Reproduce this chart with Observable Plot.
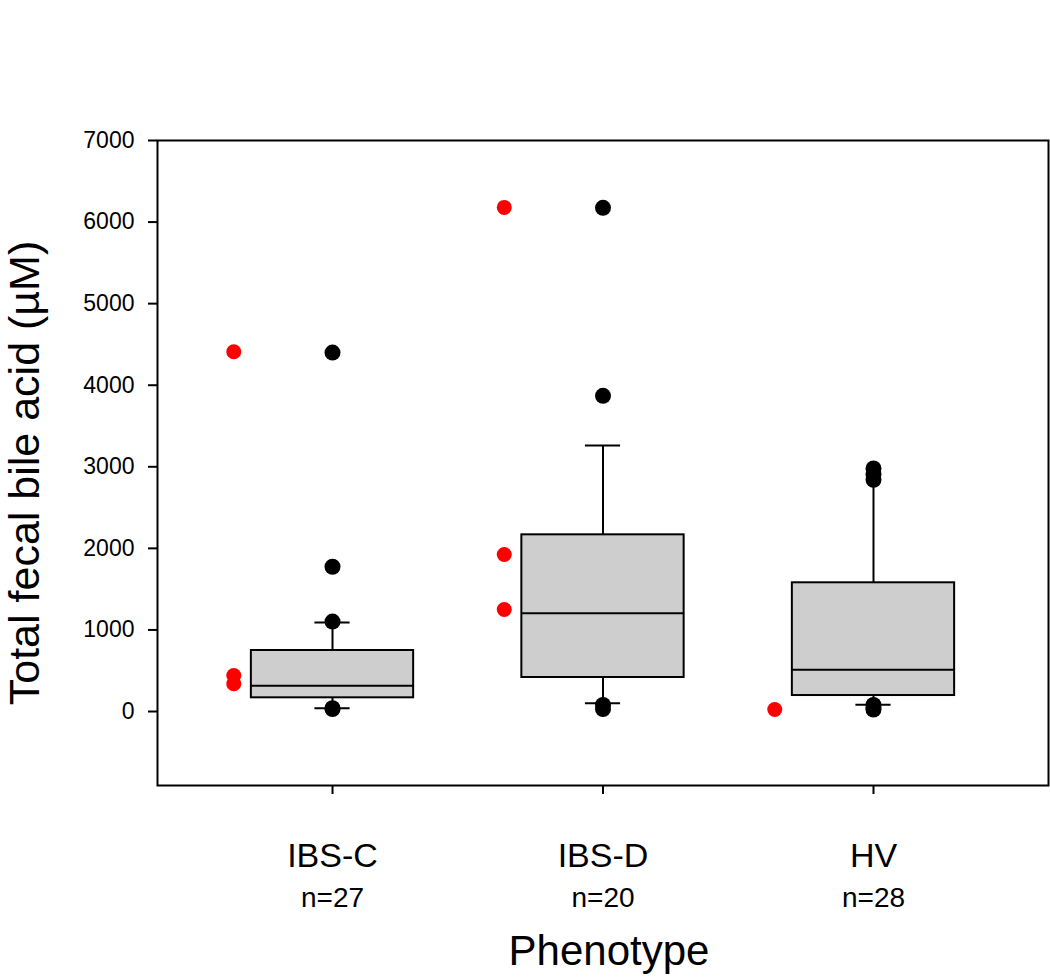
<!DOCTYPE html>
<html>
<head>
<meta charset="utf-8">
<script src="https://cdn.jsdelivr.net/npm/d3@7"></script>
<script src="https://cdn.jsdelivr.net/npm/@observablehq/plot@0.6"></script>
<style>
  html, body { margin: 0; padding: 0; background: #ffffff; }
  #chart { width: 1050px; height: 978px; }
</style>
</head>
<body>
<div id="chart"></div>
<script>
// ---- Data ----
const categories = ["IBS-C", "IBS-D", "HV"];
const nLabels = ["n=27", "n=20", "n=28"];
const q1 = [168, 417, 196];
const median = [315, 1205, 511];
const q3 = [748, 2166, 1578];
const whiskerLow = [40, 102, 82];
const whiskerHigh = [1090, 3261, 2830];
const capLow = [40, 102, 82];
const capHigh = [1090, 3261, null];
const blackPoints = [
  [4400, 1775, 1103, 40, 30],
  [6175, 3870, 80, 30],
  [2980, 2910, 2840, 80, 50, 25]
];
const redPoints = [
  [4410, 441, 340],
  [6180, 1925, 1250],
  [25]
];
const yTicks = [0, 1000, 2000, 3000, 4000, 5000, 6000, 7000];
const yLabel = "Total fecal bile acid (\u00B5M)";
const xLabel = "Phenotype";

// ---- Derived tables ----
const boxHalf = 0.3, capHalf = 0.065, redOffset = -0.365;
const boxes = categories.map((c, i) => ({
  c, pos: i + 1, q1: q1[i], median: median[i], q3: q3[i],
  lo: whiskerLow[i], hi: whiskerHigh[i]
}));
const caps = [];
categories.forEach((c, i) => {
  if (capLow[i] != null) caps.push({pos: i + 1, y: capLow[i]});
  if (capHigh[i] != null) caps.push({pos: i + 1, y: capHigh[i]});
});
const blacks = blackPoints.flatMap((arr, i) => arr.map(v => ({pos: i + 1, v})));
const reds = redPoints.flatMap((arr, i) => arr.map(v => ({pos: i + 1 + redOffset, v})));

const plot = Plot.plot({
  width: 1050,
  height: 978,
  marginLeft: 157,
  marginRight: 2,
  marginTop: 140,
  marginBottom: 193,
  style: {fontFamily: "Liberation Sans, Arial, sans-serif", background: "#ffffff", color: "#000000"},
  x: {type: "linear", domain: [0.353, 3.647], axis: null},
  y: {type: "linear", domain: [-907, 7000], axis: null},
  marks: [
    // whiskers
    Plot.ruleX(boxes, {x: "pos", y1: "q3", y2: "hi", stroke: "black", strokeWidth: 2}),
    Plot.ruleX(boxes, {x: "pos", y1: "lo", y2: "q1", stroke: "black", strokeWidth: 2}),
    // caps
    Plot.ruleY(caps, {y: "y", x1: d => d.pos - capHalf, x2: d => d.pos + capHalf, stroke: "black", strokeWidth: 2}),
    // boxes
    Plot.rect(boxes, {x1: d => d.pos - boxHalf, x2: d => d.pos + boxHalf, y1: "q1", y2: "q3",
      fill: "#cecece", stroke: "black", strokeWidth: 2}),
    Plot.ruleY(boxes, {y: "median", x1: d => d.pos - boxHalf, x2: d => d.pos + boxHalf, stroke: "black", strokeWidth: 2}),
    // points
    Plot.dot(blacks, {x: "pos", y: "v", r: 8, fill: "black"}),
    Plot.dot(reds, {x: "pos", y: "v", r: 7.5, fill: "#ff0000"}),
    // frame
    Plot.frame({stroke: "black", strokeWidth: 2}),
    // y axis
    Plot.axisY({ticks: yTicks, tickFormat: d => String(d), tickSize: 9, tickPadding: 14,
      fontSize: 23, strokeWidth: 2, label: null}),
    // x axis ticks
    Plot.axisX({ticks: [1, 2, 3], tickFormat: () => "", tickSize: 9, strokeWidth: 2, label: null}),
    Plot.axisX({ticks: [1, 2, 3], tickFormat: d => categories[d - 1], tickSize: 0, tickPadding: 57,
      fontSize: 34, label: null}),
    Plot.axisX({ticks: [1, 2, 3], tickFormat: d => nLabels[d - 1], tickSize: 0, tickPadding: 102,
      fontSize: 28, label: null}),
    // axis titles
    Plot.text([xLabel], {text: d => d, frameAnchor: "bottom", lineAnchor: "top", textAnchor: "middle",
      dy: 150, dx: 6, fontSize: 42, fill: "black"}),
    Plot.text([yLabel], {text: d => d, frameAnchor: "left", rotate: -90, lineAnchor: "middle",
      textAnchor: "middle", dx: -132, dy: 10, fontSize: 43, fill: "black"})
  ]
});
document.getElementById("chart").appendChild(plot);
</script>
</body>
</html>
